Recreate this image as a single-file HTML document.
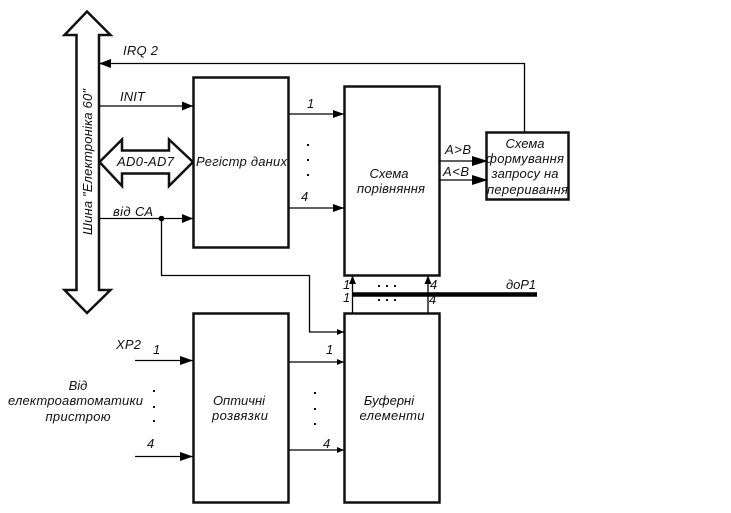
<!DOCTYPE html>
<html><head><meta charset="utf-8"><style>
html,body{margin:0;padding:0;background:#fff}
svg{display:block}
text{font-family:"Liberation Sans",sans-serif;font-style:italic;font-size:13px;fill:#111}
.b{fill:#fff;stroke:#111;stroke-width:2.5}
.l{fill:none;stroke:#000;stroke-width:1.3}
.a{fill:#000;stroke:none}
.d{fill:#111;stroke:none}
.m{text-anchor:middle}
</style></head><body>
<svg width="731" height="513" viewBox="0 0 731 513" xmlns="http://www.w3.org/2000/svg">
<polygon class="b" points="87,11.5 110.5,35 99,35 99,290 110.5,290 87,313 64.5,290 76.5,290 76.5,35 64.5,35"/>
<polygon class="b" points="99.5,162 122,139.5 122,150.5 169,150.5 169,139.5 193,162 169,186 169,173.5 122,173.5 122,186"/>
<rect class="b" x="193.5" y="77.5" width="95" height="170"/>
<rect class="b" x="344.5" y="86.5" width="95" height="189"/>
<rect class="b" x="486.5" y="132.5" width="82" height="67"/>
<rect class="b" x="193.5" y="313.5" width="95" height="189"/>
<rect class="b" x="344.5" y="313.5" width="95" height="189"/>

<path class="l" d="M524.5 132V63.5H99M99 106H193M99 218.5H193M161.5 218.5V275.5H309.5V332H344M289 114H344M289 208H344M439 161H487M439 180H487M352.5 313V276M428 313V276M135 360.5H193M135 456.5H193M289 362H344M289 450H344"/>
<circle class="a" cx="161.5" cy="218.5" r="2.8"/>
<path d="M352 294.5H537" stroke="#000" stroke-width="4.4" fill="none"/>

<polygon class="a" points="99,63.5 111,59 111,68"/>
<polygon class="a" points="193,106 182,101.5 182,110.5"/>
<polygon class="a" points="193,218.5 182,214 182,223"/>
<polygon class="a" points="344,114 333,110 333,118"/>
<polygon class="a" points="344,208 333,204 333,212"/>
<polygon class="a" points="488,161 472,156 472,166"/>
<polygon class="a" points="488,180 472,175 472,185"/>
<polygon class="a" points="352.5,275.5 349,284 356,284"/>
<polygon class="a" points="428,275.5 424.5,284 431.5,284"/>
<polygon class="a" points="344,332 337,329 337,335"/>
<polygon class="a" points="344,362 337,359 337,365"/>
<polygon class="a" points="344,450 337,447 337,453"/>
<polygon class="a" points="193,360.5 180,356 180,365"/>
<polygon class="a" points="193,456.5 180,452 180,461"/>

<text x="123" y="55" textLength="35" lengthAdjust="spacing">IRQ 2</text>
<text x="120" y="101" textLength="25" lengthAdjust="spacing">INIT</text>
<text x="117" y="166" textLength="57" lengthAdjust="spacing">AD0-AD7</text>
<text x="113" y="216" textLength="40" lengthAdjust="spacing">від СА</text>
<text x="196" y="166" textLength="91" lengthAdjust="spacing">Регістр даних</text>
<text transform="translate(92 235) rotate(-90)" textLength="146" lengthAdjust="spacing">Шина "Електроніка 60"</text>

<text x="307" y="108">1</text>
<text x="301" y="201">4</text>
<rect class="d" x="307" y="144" width="2" height="2"/><rect class="d" x="307" y="159" width="2" height="2"/><rect class="d" x="307" y="174" width="2" height="2"/>

<text class="m" x="389" y="178">Схема</text>
<text class="m" x="391" y="193" textLength="68" lengthAdjust="spacing">порівняння</text>
<text x="445" y="154" textLength="26" lengthAdjust="spacing">A&gt;B</text>
<text x="443" y="176" textLength="26" lengthAdjust="spacing">A&lt;B</text>
<text class="m" x="525" y="148">Схема</text>
<text class="m" x="525" y="163" textLength="78" lengthAdjust="spacing">формування</text>
<text class="m" x="525" y="178" textLength="67" lengthAdjust="spacing">запросу на</text>
<text class="m" x="527.5" y="194" textLength="81" lengthAdjust="spacing">переривання</text>

<text x="343" y="289">1</text>
<text x="343" y="302">1</text>
<text x="430" y="289">4</text>
<text x="429" y="304">4</text>
<rect class="d" x="378" y="285" width="2" height="2"/><rect class="d" x="386" y="285" width="2" height="2"/><rect class="d" x="394" y="285" width="2" height="2"/>
<rect class="d" x="378" y="299" width="2" height="2"/><rect class="d" x="386" y="299" width="2" height="2"/><rect class="d" x="394" y="299" width="2" height="2"/>
<text x="506" y="289" textLength="30" lengthAdjust="spacing">доР1</text>

<text x="116" y="349" textLength="25" lengthAdjust="spacing">XP2</text>
<text x="153" y="354">1</text>
<text x="147" y="448">4</text>
<rect class="d" x="153" y="390" width="2" height="2"/><rect class="d" x="153" y="406" width="2" height="2"/><rect class="d" x="153" y="420" width="2" height="2"/>
<text class="m" x="78" y="390">Від</text>
<text class="m" x="75.5" y="405" textLength="135" lengthAdjust="spacing">електроавтоматики</text>
<text class="m" x="78" y="421" textLength="65" lengthAdjust="spacing">пристрою</text>
<text class="m" x="239" y="405">Оптичні</text>
<text class="m" x="240" y="420" textLength="56" lengthAdjust="spacing">розвязки</text>

<text x="326" y="354">1</text>
<text x="323" y="448">4</text>
<rect class="d" x="314" y="392" width="2" height="2"/><rect class="d" x="314" y="408" width="2" height="2"/><rect class="d" x="314" y="423" width="2" height="2"/>
<text class="m" x="389" y="405">Буферні</text>
<text class="m" x="392" y="420" textLength="65" lengthAdjust="spacing">елементи</text>
</svg>
</body></html>
